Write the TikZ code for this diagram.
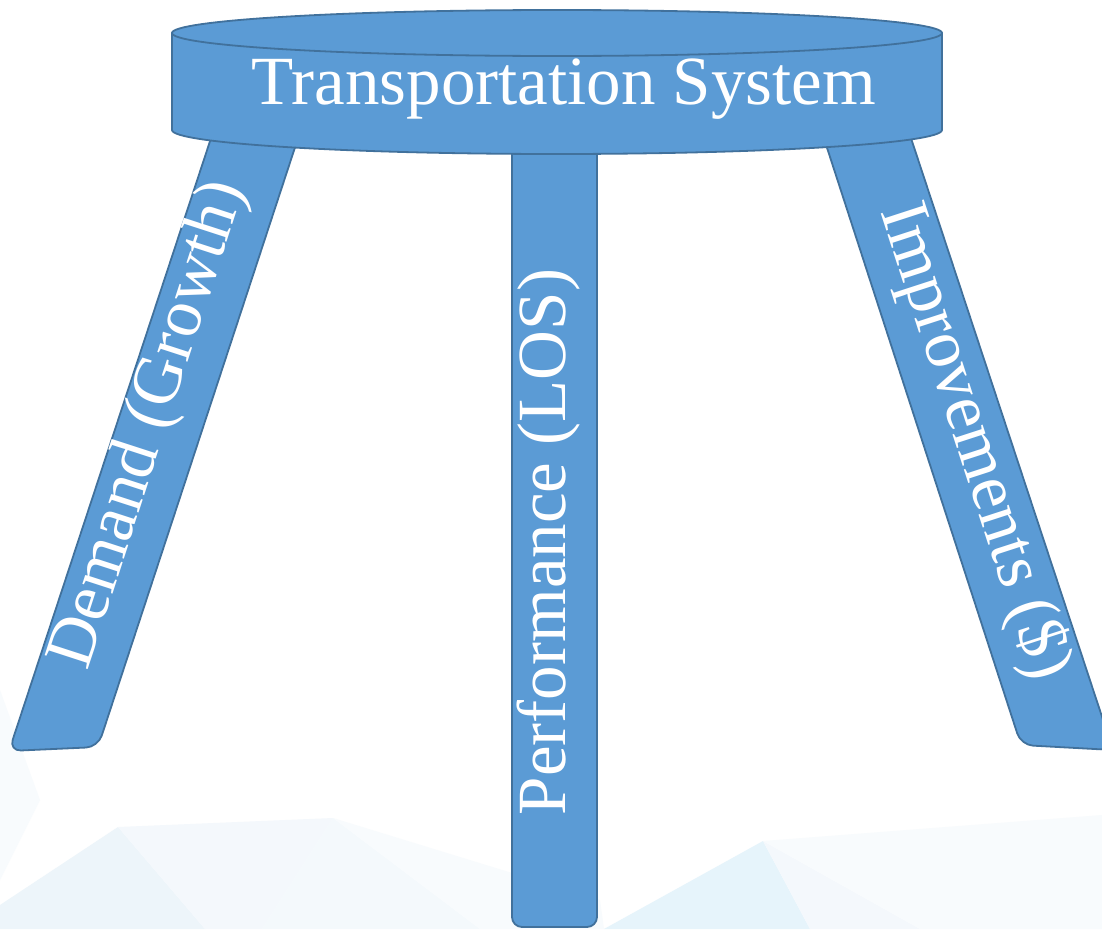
\documentclass[tikz,border=0pt]{standalone}
\usepackage{fontspec}
\setmainfont{Liberation Serif}
\definecolor{stoolfill}{HTML}{5B9BD5}
\definecolor{stooledge}{HTML}{41719C}
\definecolor{polyA}{HTML}{EDF5FA}
\definecolor{polyB}{HTML}{F4F8FC}
\definecolor{polyC}{HTML}{E6F4FB}
\definecolor{polyD}{HTML}{F8FBFD}
\begin{document}
\begin{tikzpicture}[x=1pt,y=-1pt,
  stool/.style={fill=stoolfill,draw=stooledge,line width=1.8pt,line join=round},
  label/.style={text=white,inner sep=0pt,font=\fontsize{69}{80}\selectfont}]
\useasboundingbox (0,0) rectangle (1102,929);
\clip (0,0) rectangle (1102,929);
\fill[white] (0,0) rectangle (1102,929);
% faint low-poly backdrop along the bottom
\fill[polyD] (0,690) -- (40,800) -- (0,880) -- cycle;
\fill[polyA] (0,929) -- (0,905) -- (118,827) -- (205,929) -- cycle;
\fill[polyB] (118,827) -- (333,818) -- (262,929) -- (205,929) -- cycle;
\fill[polyA!60!white] (333,818) -- (480,929) -- (262,929) -- cycle;
\fill[polyD] (333,818) -- (600,900) -- (604,929) -- (480,929) -- cycle;
\fill[polyC] (604,929) -- (763,841) -- (810,929) -- cycle;
\fill[polyB] (763,841) -- (920,929) -- (810,929) -- cycle;
\fill[polyD] (763,841) -- (1102,815) -- (1102,929) -- (920,929) -- cycle;
% legs
\draw[stool,rounded corners=12pt] (217,120) -- (9,751) -- (98,747) -- (304,120) -- cycle;
\draw[stool,rounded corners=10pt] (512,120) -- (512,927) -- (597,927) -- (597,120) -- cycle;
\draw[stool,rounded corners=12pt] (818,120) -- (1021,745) -- (1113,750) -- (905,120) -- cycle;
% seat: side band and top ellipse
\draw[stool] (172,33) -- (172,130) arc[start angle=180,end angle=0,x radius=385,y radius=24] -- (942,33) -- cycle;
\draw[stool] (557,33) ellipse[x radius=385,y radius=23];
% labels
\node[label,anchor=base] (seat) at (564,104) {Transportation System};
\node[label,rotate=72] (demand) at (150,425) {Demand (Growth)};
\node[label,rotate=90,anchor=base] (perf) at (565,542) {Performance (LOS)};
\node[label,rotate=-72] (impr) at (974,442) {Improvements (\$)};
\end{tikzpicture}
\end{document}
